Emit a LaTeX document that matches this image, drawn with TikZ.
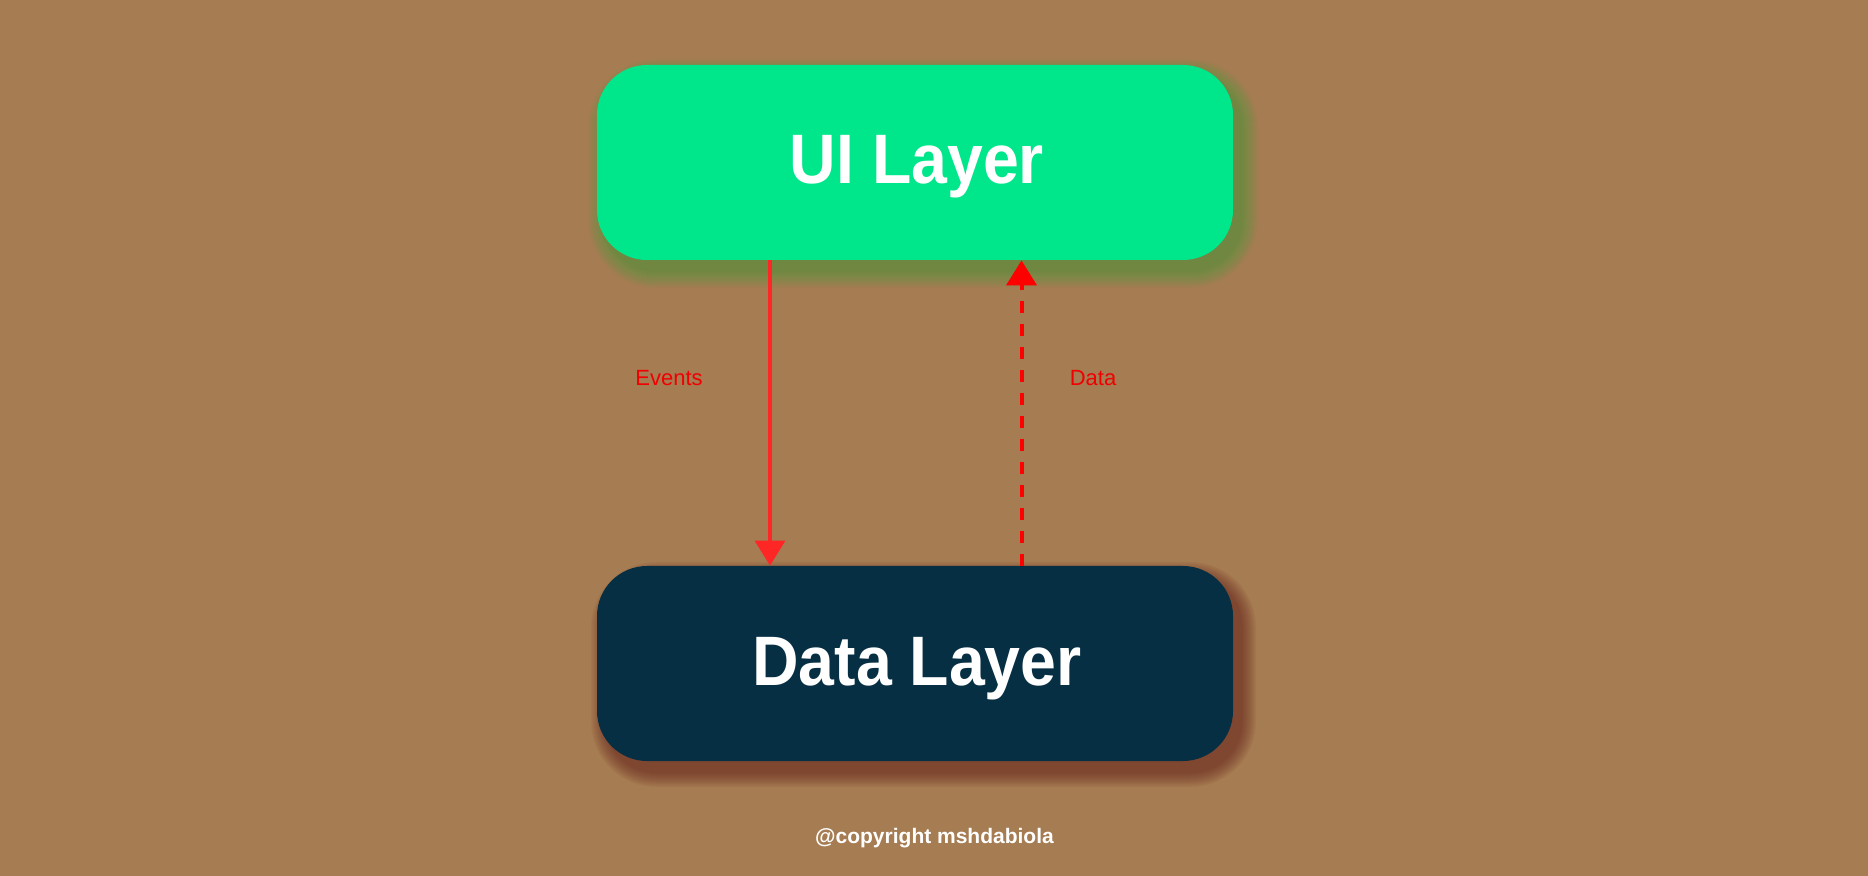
\documentclass[tikz,border=0pt]{standalone}
\usepackage{fontspec}
\setmainfont{Liberation Sans}
\newfontfamily\titlefont[FakeStretch=0.92]{Liberation Sans}
\usetikzlibrary{arrows.meta}
\definecolor{bgc}{RGB}{166,124,82}
\definecolor{uigreen}{RGB}{0,230,138}
\definecolor{datablue}{RGB}{7,47,68}
\definecolor{arrowred}{RGB}{255,38,38}
\definecolor{dashred}{RGB}{255,0,0}
\definecolor{labelred}{RGB}{240,0,0}
\definecolor{glowgreen}{RGB}{70,160,60}
\definecolor{shadowred}{RGB}{95,25,25}
\begin{document}
\begin{tikzpicture}[x=0.5pt,y=-0.5pt,
  layerbox/.style={minimum width=318pt,minimum height=97.5pt,rounded corners=25pt,inner sep=0pt,draw=none},
  titletext/.style={anchor=base,text=white,font=\titlefont\bfseries\fontsize{35pt}{40pt}\selectfont,inner sep=0pt},
  arrowlabel/.style={anchor=base,text=labelred,font=\fontsize{11pt}{13pt}\selectfont,inner sep=0pt},
  evarrow/.style={draw=arrowred,line width=1.8pt,-{Triangle[width=15pt,length=12.5pt]}},
  dataarrow/.style={draw=dashred,line width=2pt,dash pattern=on 6pt off 5.5pt,-{Triangle[width=15pt,length=12.5pt]}}]
\fill[bgc] (0,0) rectangle (1868,876);
\useasboundingbox (0,0) rectangle (1868,876);
% soft glow of the UI box
\foreach \i [evaluate=\i as \r using 25+0.5*\i] in {1,...,18}{
  \fill[glowgreen,opacity=0.04,rounded corners=\r pt] (606-\i,77-\i) rectangle (1240+\i,270+\i);
}
% soft shadow of the Data box
\foreach \i [evaluate=\i as \r using 25+0.5*\i] in {1,...,15}{
  \fill[shadowred,opacity=0.045,rounded corners=\r pt] (606-\i,577-\i) rectangle (1241+\i,772+\i);
}
\node[layerbox,fill=uigreen] (ui) at (915,162.5) {};
\node[layerbox,fill=datablue] (data) at (915,663.5) {};
\node[titletext] (uitext) at (917,184) {UI Layer};
\node[titletext] (datatext) at (917,685) {Data Layer};
\draw[evarrow] ([xshift=-72.5pt]ui.south) -- ([xshift=-72.5pt]data.north);
\draw[dataarrow] ([xshift=53.25pt]data.north) -- ([xshift=53.25pt]ui.south);
\node[arrowlabel] (evlabel) at (669,386) {Events};
\node[arrowlabel] (datalabel) at (1093,386) {Data};
\node[anchor=base,text=white,inner sep=0pt,font=\bfseries\fontsize{10.5pt}{12pt}\selectfont] (copy) at (934.5,843) {@copyright mshdabiola};
\end{tikzpicture}
\end{document}
